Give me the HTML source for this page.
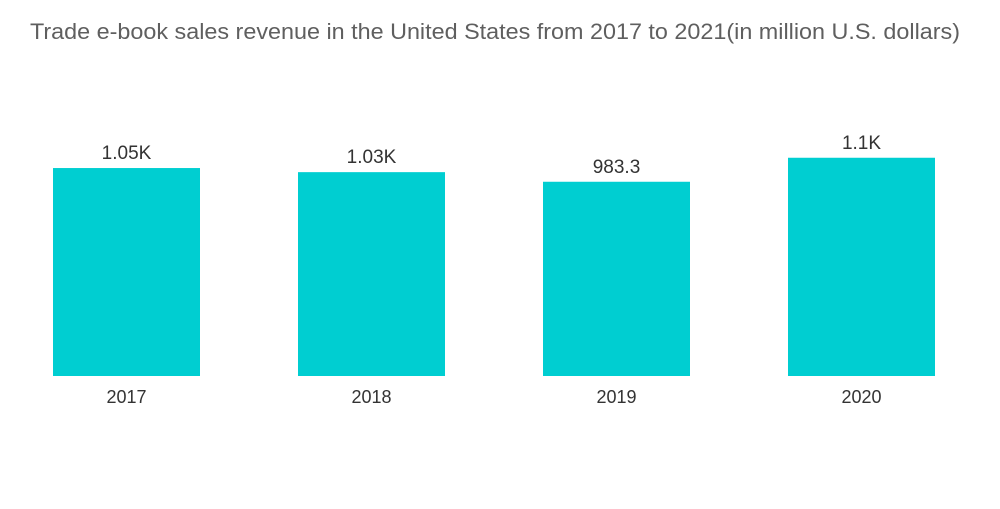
<!DOCTYPE html>
<html><head><meta charset="utf-8"><style>
body{margin:0;background:#fff;font-family:"Liberation Sans",sans-serif}
svg text{font-family:"Liberation Sans",sans-serif}
</style></head><body>
<svg width="1000" height="504">
<text x="30" y="39" font-size="22" fill="#5f5f5f" textLength="930" lengthAdjust="spacingAndGlyphs">Trade e-book sales revenue in the United States from 2017 to 2021(in million U.S. dollars)</text>
<g id="bars"></g>
</svg>
<script>
const categories=["2017","2018","2019","2020"];
const values=[1050,1030,983.3,1100];
const valueLabels=["1.05K","1.03K","983.3","1.1K"];
const base=376, k=0.2057, vmin=39;
function yScale(v){return base-(v-vmin)*k;}
function xScale(i){return 53+i*245;}
const bw=147;
const g=document.getElementById('bars');
const ns="http://www.w3.org/2000/svg";
categories.forEach((c,i)=>{
  const r=document.createElementNS(ns,'rect');
  r.setAttribute('x',xScale(i));r.setAttribute('y',yScale(values[i]));
  r.setAttribute('width',bw);r.setAttribute('height',base-yScale(values[i]));
  r.setAttribute('fill','#00ced1');
  
  
  g.appendChild(r);
  const t=document.createElementNS(ns,'text');
  t.setAttribute('x',xScale(i)+bw/2);t.setAttribute('y',yScale(values[i])-9);
  t.setAttribute('text-anchor','middle');t.setAttribute('font-size','19');t.setAttribute('fill','#333');
  t.textContent=valueLabels[i];
  
  
  g.appendChild(t);
  const x=document.createElementNS(ns,'text');
  x.setAttribute('x',xScale(i)+bw/2);x.setAttribute('y',403);
  x.setAttribute('text-anchor','middle');x.setAttribute('font-size','18');x.setAttribute('fill','#333');
  x.textContent=c;
  
  
  g.appendChild(x);
});
</script>
</body></html>
